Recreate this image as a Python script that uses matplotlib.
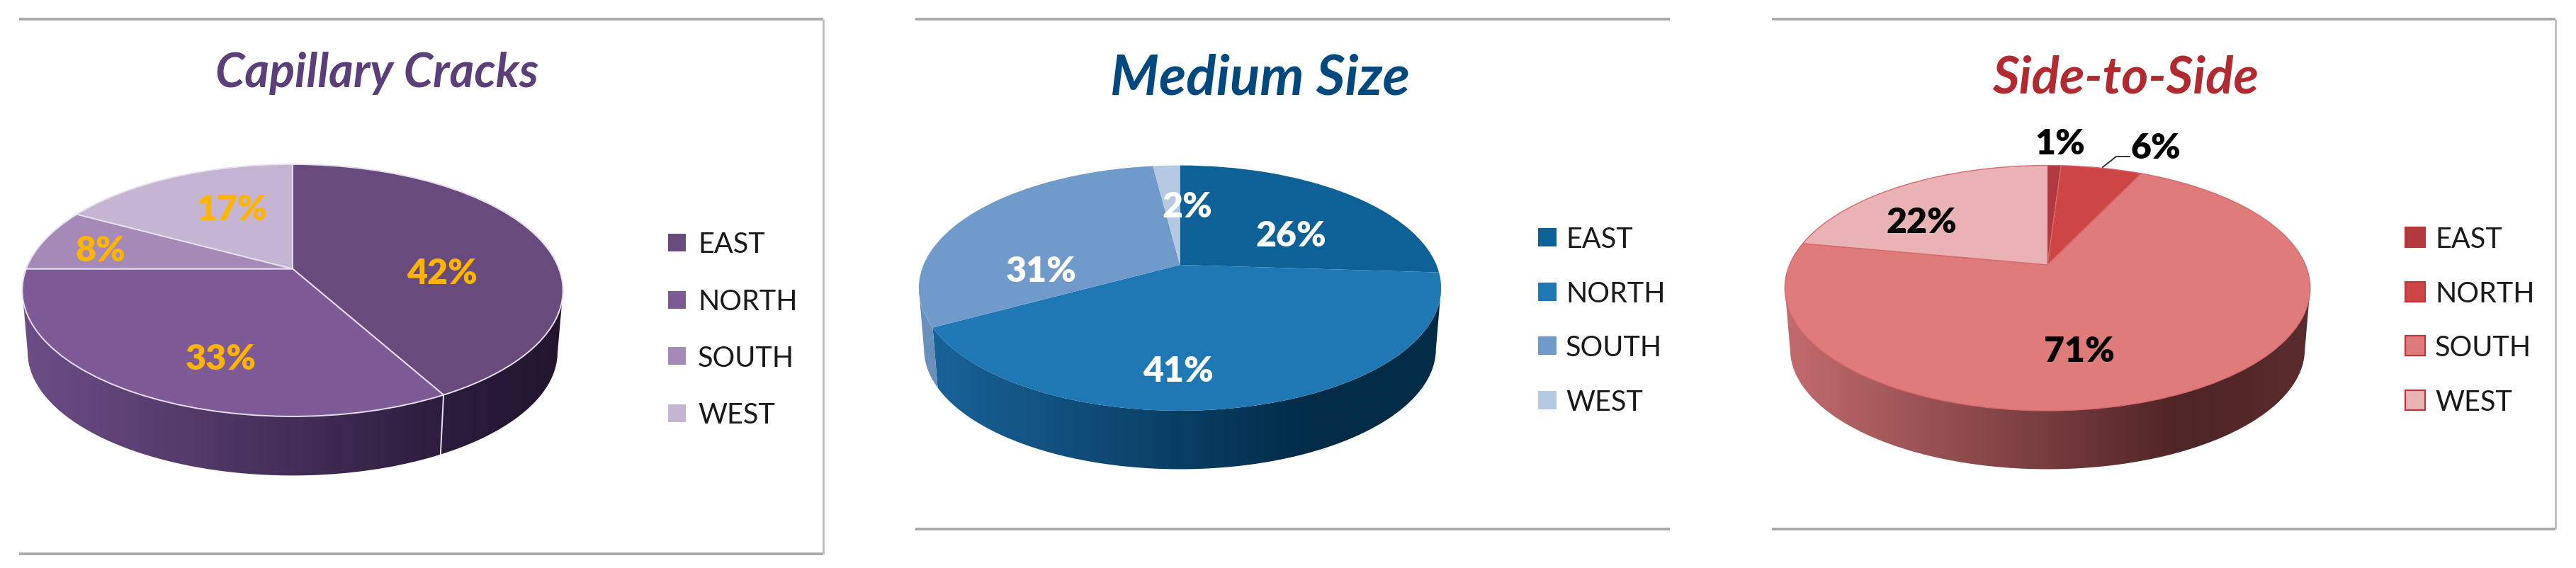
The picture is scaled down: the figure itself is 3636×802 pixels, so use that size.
import numpy as np
import matplotlib
matplotlib.use("Agg")
import matplotlib.pyplot as plt
from matplotlib.transforms import Transform
from matplotlib.patches import Polygon, Rectangle
from matplotlib.colors import LinearSegmentedColormap

# ---- data ----
regions = ["EAST", "NORTH", "SOUTH", "WEST"]
titles = ["Capillary Cracks", "Medium Size", "Side-to-Side"]
capillary_values = [42, 33, 8, 17]
medium_values = [26, 41, 31, 2]
side_values = [1, 6, 71, 22]

# ---- styles and layout (pixel units of the 3636x803 canvas) ----
W, H = 3636, 803
plt.rcParams['font.family'] = ['Lato', 'DejaVu Sans']
panels = [
    dict(values=capillary_values, title=titles[0], title_color='#5b3f78', title_xy=(532, 104), title_size=48,
         colors=['#694a7c', '#7e5a96', '#a58ab8', '#c5b5d2'], edge='#e6dfee', edge_w=1.4,
         apex=(413, 380.5), s=376, t=172.8, k=0.171, depth=87,
         wall=[[(0, '#6d4e88'), (.8, '#2b1b3b'), (1, '#23142e')]] * 4, wall_line='#e8e4ec',
         label_color='#ffb400', label_xy=[(624, 387), (312, 507), (142, 355), (327, 297)],
         frame=(27, 1162, 28, 783), sides=True,
         leg_square=(943, 25), leg_text=985, leg_y=[343, 424, 503, 584], leg_edge=None,
         ax_x=(0, 1225)),
    dict(values=medium_values, title=titles[1], title_color='#00497f', title_xy=(1778, 112), title_size=56.5,
         colors=['#0e6196', '#1f77b4', '#6f9ac9', '#b5c9e3'], edge=None, edge_w=0,
         apex=(1665.5, 375), s=362, t=167, k=0.189, depth=86,
         wall=[[(0, '#1a659c'), (.75, '#012b47'), (1, '#012b47')]] * 2
              + [[(0, '#6a8fbc'), (1, '#6a8fbc')]] * 2, wall_line=None,
         label_color='white', label_xy=[(1822, 334), (1663, 525), (1470, 384), (1675.5, 293)],
         frame=(1292, 2357, 28, 748), sides=False,
         leg_square=(2171, 26), leg_text=2210, leg_y=[336, 413, 489, 566], leg_edge=None,
         ax_x=(1225, 2440)),
    dict(values=side_values, title=titles[2], title_color='#b02a30', title_xy=(3000, 111), title_size=52.5,
         colors=['#b03a3f', '#cd4645', '#df7b7b', '#e9b3b5'], edge='#d56a6c', edge_w=1.0,
         apex=(2890, 375), s=364, t=167, k=0.189, depth=86,
         wall=[[(0, '#c46c6e'), (.75, '#4f2426'), (1, '#5a2c2d')]] * 4, wall_line=None,
         label_color='black', label_xy=[(2908, 203), (3043, 210), (2935, 497), (2712, 315)],
         frame=(2501, 3607, 28, 748), sides=True,
         leg_square=(3395, 28), leg_text=3437, leg_y=[336, 413, 489, 566], leg_edge='#b8393c',
         leader=[(2968, 237), (2987, 222), (3006, 222)],
         ax_x=(2440, 3636)),
]
FRAME = '#a6a6a6'
LEGEND_TEXT_DROP = 3


class Tilt(Transform):
    """Perspective view of the unit circle: maps pie coordinates to canvas pixels."""
    input_dims = output_dims = 2
    is_separable = False
    has_inverse = False

    def __init__(self, apex, s, t, k):
        super().__init__()
        self.apex, self.s, self.t, self.k = apex, s, t, k

    def transform_non_affine(self, xy):
        xy = np.asarray(xy, float)
        w = 1 + self.k * xy[:, 1]
        return np.column_stack([self.apex[0] + self.s * xy[:, 0] / w,
                                self.apex[1] - self.t * xy[:, 1] / w])


fig = plt.figure(figsize=(W / 100, H / 100), dpi=100, facecolor='white')

for p in panels:
    x0, x1 = p['ax_x']
    ax = fig.add_axes([x0 / W, 0, (x1 - x0) / W, 1])
    tilt = Tilt(p['apex'], p['s'], p['t'], p['k'])

    wedges, _ = ax.pie(p['values'], colors=p['colors'], startangle=90, counterclock=False,
                       wedgeprops=dict(edgecolor=p['edge'] or 'none', linewidth=p['edge_w']))
    for w in wedges:
        w.set_transform(tilt + ax.transData)
        w.set_zorder(4)
        w.set_clip_on(False)

    # side wall of the disc, one piece for each slice; it starts at the widest point of the rim
    rim_mid_y = p['apex'][1] + (p['t'] / (1 - p['k']) - p['t'] / (1 + p['k'])) / 2
    def wall_pts(top):
        b = top.copy()
        b[:, 0] = p['apex'][0] + (b[:, 0] - p['apex'][0]) * 0.98
        b[:, 1] = rim_mid_y + (b[:, 1] - rim_mid_y) * 0.98 + p['depth']
        return b

    left = p['apex'][0] - p['s'] * 1.03
    right = p['apex'][0] + p['s'] * 1.03
    edges = np.cumsum([0] + list(p['values'])) / sum(p['values']) * 2 * np.pi
    for i in range(len(p['values'])):
        th = np.linspace(edges[i], edges[i + 1], 300)
        th = th[np.cos(th) < -p['k']]
        if th.size < 2:
            continue
        top = tilt.transform_non_affine(np.column_stack([np.sin(th), np.cos(th)]))
        poly = Polygon(np.vstack([top, wall_pts(top)[::-1]]), closed=True, fc='none', ec='none',
                       transform=ax.transData)
        ax.add_patch(poly)
        cmap = LinearSegmentedColormap.from_list('wall', p['wall'][i])
        im = ax.imshow(np.linspace(0, 1, 512)[None, :], cmap=cmap, vmin=0, vmax=1, aspect='auto',
                       extent=(left, right, 800, 100), zorder=2, interpolation='bilinear')
        im.set_clip_path(poly)
        if p['wall_line']:
            a = edges[i + 1]
            if np.cos(a) < -p['k']:
                pt = tilt.transform_non_affine(np.array([[np.sin(a), np.cos(a)]]))
                q = wall_pts(pt)
                ax.plot([pt[0, 0], q[0, 0]], [pt[0, 1], q[0, 1]], color=p['wall_line'], lw=1.4, zorder=3)

    ax.set_aspect('auto')
    ax.set_xlim(x0, x1)
    ax.set_ylim(H, 0)
    ax.axis('off')

    # frame lines
    fx0, fx1, fy0, fy1 = p['frame']
    ax.plot([fx0, fx1], [fy0, fy0], color=FRAME, lw=2.6, solid_capstyle='butt', zorder=1)
    ax.plot([fx0, fx1], [fy1, fy1], color=FRAME, lw=2.6, solid_capstyle='butt', zorder=1)
    if p['sides']:
        ax.plot([fx1, fx1], [fy0, fy1], color='#bdbdbd', lw=2, solid_capstyle='butt', zorder=1)

    # title
    ax.text(*p['title_xy'], p['title'], color=p['title_color'], fontsize=p['title_size'],
            fontweight='bold', fontstyle='italic', ha='center', va='center')

    # slice labels
    for v, xy in zip(p['values'], p['label_xy']):
        ax.text(*xy, f"{v}%", color=p['label_color'], fontsize=36, fontweight='heavy',
                ha='center', va='center', zorder=6)
    if 'leader' in p:
        ax.plot(*zip(*p['leader']), color='#333333', lw=1.4, zorder=5)

    # legend
    sq_x, sq = p['leg_square']
    for name, col, y in zip(regions, p['colors'], p['leg_y']):
        ax.add_patch(Rectangle((sq_x, y - sq / 2), sq, sq, fc=col,
                               ec=p['leg_edge'] or 'none', lw=1.6 if p['leg_edge'] else 0))
        ax.text(p['leg_text'], y + LEGEND_TEXT_DROP, name, fontsize=28.5, color='#1a1a1a',
                ha='left', va='center')

fig.savefig('out.png', dpi=100)
